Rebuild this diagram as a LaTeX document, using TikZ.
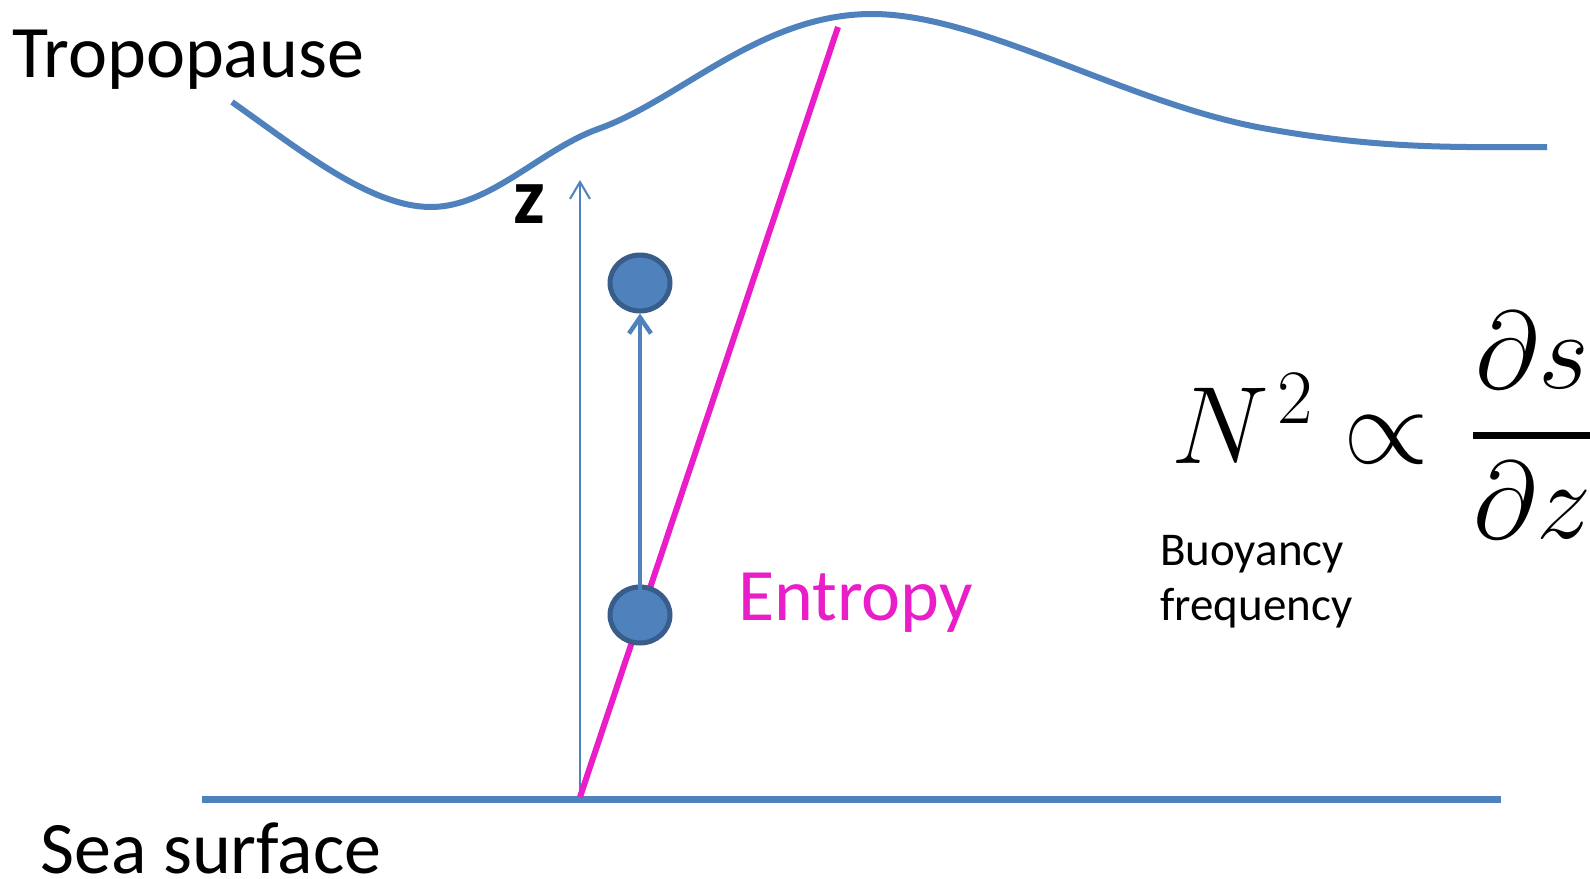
\RequirePackage{fix-cm}
\documentclass[tikz,border=0pt]{standalone}
\usepackage[no-math]{fontspec}
\setmainfont{Carlito}
\usepackage{amsmath}
\usepackage{xcolor}
\usepackage{tikz}
\usetikzlibrary{arrows.meta,positioning,shapes.geometric}

\definecolor{seablue}{HTML}{4F81BD}
\definecolor{parceledge}{HTML}{385D8A}
\definecolor{entropymag}{HTML}{E91EC8}

\begin{document}
\begin{tikzpicture}[
    x=1pt, y=-1pt,
    surface/.style={draw=seablue, line width=6pt},
    parcel/.style={ellipse, draw=parceledge, fill=seablue, line width=5pt, minimum width=60pt, minimum height=56pt, inner sep=0pt},
    axis/.style={draw=seablue, line width=2pt, -{Straight Barb[length=17pt, width=20pt]}},
    lift/.style={draw=seablue, line width=4.5pt, -{Straight Barb[length=16pt, width=22pt]}},
    label/.style={inner sep=0pt, anchor=base west, font=\fontsize{74}{88}\selectfont}
]
\clip (0,0) rectangle (1590,878);

% ground and tropopause
\draw[surface, line width=7pt] (202,799) -- (1501,799);
\draw[surface] (232,102) .. controls (300,150) and (370,207) .. (431,207)
    .. controls (490,207) and (540,150) .. (598,129)
    .. controls (680,100) and (760,14) .. (872,14)
    .. controls (980,14) and (1120,100) .. (1257,127)
    .. controls (1380,150) and (1460,147) .. (1547,147);

\coordinate (base) at (580,797);
\coordinate (ztop) at (580,180);
\coordinate (stop) at (838,27);

\draw[axis] (base) -- (ztop);
\draw[entropymag, line width=6pt] (base) -- (stop);

% air parcel
\node[parcel] (lower) at (640,615) {};
\node[parcel] (upper) at (640,283) {};
\draw[lift] ([yshift=15pt]lower.center) -- (upper.south);

\node[label] (tropo) at (12,77) {Tropopause};
\node[label] (sea) at (40,873) {Sea surface};
\node[label, text=entropymag] (entropy) at (738,620) {Entropy};
\node[inner sep=0pt, anchor=base, font=\fontsize{80}{90}\selectfont\bfseries] (zlabel) at (529,223) {z};
\node[inner sep=0pt, anchor=base west, align=left, font=\fontsize{47}{55}\selectfont] (buoy) at (1160,620) {Buoyancy\\frequency};
\node[inner sep=0pt, anchor=base west, font=\fontsize{110}{130}\selectfont] (formula) at (1171,463)
    {$N^{\mkern2mu 2} \propto \mkern2mu \genfrac{}{}{7pt}{0}{\partial s\mkern9mu}{\partial z\mkern9mu}$};
\end{tikzpicture}
\end{document}
